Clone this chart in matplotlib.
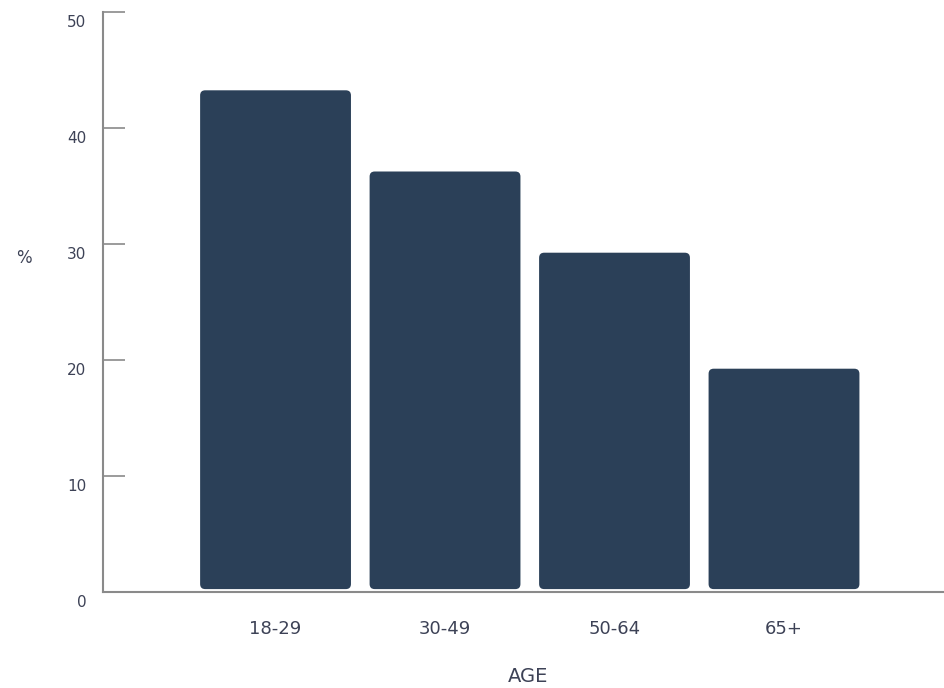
import matplotlib
matplotlib.use("Agg")
import matplotlib.pyplot as plt
from matplotlib.patches import FancyBboxPatch
from matplotlib.transforms import ScaledTranslation

categories = ["18-29", "30-49", "50-64", "65+"]
values = [43, 36, 29, 19]
yticks = [0, 10, 20, 30, 40, 50]

bar_color = "#2b4058"
text_color = "#3d4256"
line_color = "#8a8a8a"

fig = plt.figure(figsize=(9.44, 6.88), dpi=100)
ax = fig.add_axes([103/944, 1 - 592/688, 1 - 103/944, (592 - 12)/688])

x = list(range(len(categories)))
width = 0.89
base = 0.25
bars = ax.bar(x, values, width=width, bottom=base, color=bar_color)
ax.set_xlim(-1.018, 3.944)
ax.set_ylim(0, 50)

# replace rectangles with rounded boxes
x_px = 169.5
y_px = 11.6
for r in bars:
    r.set_visible(False)
    p = FancyBboxPatch((r.get_x(), r.get_y()), r.get_width(), r.get_height(),
                       boxstyle="round,pad=0,rounding_size=0.03",
                       mutation_aspect=x_px / y_px,
                       facecolor=bar_color, edgecolor="none", zorder=2)
    ax.add_patch(p)

for s in ["top", "right"]:
    ax.spines[s].set_visible(False)
for s in ["left", "bottom"]:
    ax.spines[s].set_color(line_color)
    ax.spines[s].set_linewidth(1.5)

ax.set_yticks(yticks)
ax.set_yticklabels([str(v) for v in yticks])
ax.tick_params(axis="y", direction="in", length=16, width=1.2, color=line_color,
               labelsize=11, labelcolor=text_color, pad=12)
off = ScaledTranslation(0, -9/100, fig.dpi_scale_trans)
for lab in ax.get_yticklabels():
    lab.set_transform(lab.get_transform() + off)

ax.set_xticks(x)
ax.set_xticklabels(categories)
ax.tick_params(axis="x", length=0, labelsize=13, labelcolor=text_color, pad=20)

fig.text(528/944, 1 - 677/688, "AGE", ha="center", va="center",
         fontsize=14, color=text_color)
fig.text(24/944, 1 - 258/688, "%", ha="center", va="center",
         fontsize=12, color=text_color)

fig.savefig("out.png", dpi=100)
